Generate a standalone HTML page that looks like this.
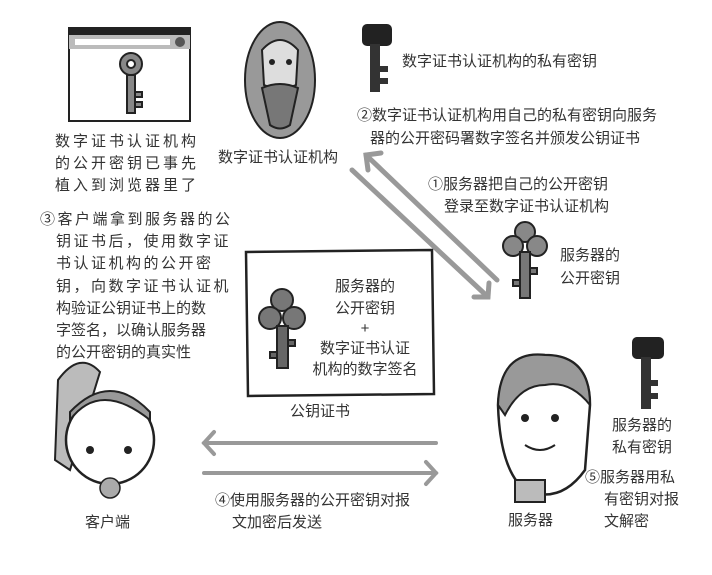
<!DOCTYPE html>
<html><head><meta charset="utf-8"><style>
body{margin:0;background:#fff;}
svg{display:block}
text{font-family:"Liberation Sans","Noto Sans CJK SC",sans-serif;font-size:15px;fill:#333;}
.w3{letter-spacing:3px}
.w2{letter-spacing:2.5px}
</style></head><body>
<svg width="712" height="575" viewBox="0 0 712 575">
<rect x="69" y="28" width="121" height="93" fill="#fff" stroke="#222" stroke-width="2"/>
<rect x="69" y="28" width="121" height="7" fill="#222"/>
<rect x="69" y="35" width="121" height="14" fill="#bbb"/>
<rect x="75" y="39" width="95" height="6" fill="#fff"/>
<circle cx="180" cy="42" r="5" fill="#555"/>
<circle cx="131" cy="64" r="11" fill="#888" stroke="#222" stroke-width="2"/>
<circle cx="131" cy="64" r="4" fill="#fff" stroke="#222" stroke-width="2"/>
<path d="M127 75 h8 v38 h-8 z M135 92 h7 v5 h-7z M135 102 h7 v5 h-7z" fill="#888" stroke="#222" stroke-width="2"/>
<text class="w3" x="55" y="146">数字证书认证机构</text>
<text class="w3" x="55" y="168">的公开密钥已事先</text>
<text class="w3" x="55" y="190">植入到浏览器里了</text>
<ellipse cx="280" cy="80" rx="35" ry="58" fill="#999" stroke="#222" stroke-width="2"/>
<path d="M262 50 Q280 30 298 50 L296 85 Q280 92 264 85 Z" fill="#ddd" stroke="#222" stroke-width="2"/>
<path d="M262 88 Q280 80 298 88 L290 125 Q280 132 270 125 Z" fill="#777" stroke="#222" stroke-width="2"/>
<circle cx="272" cy="62" r="3" fill="#222"/><circle cx="289" cy="62" r="3" fill="#222"/>
<text x="218" y="162">数字证书认证机构</text>
<rect x="362" y="24" width="30" height="22" rx="5" fill="#222"/>
<rect x="370" y="44" width="10" height="48" fill="#333"/>
<rect x="380" y="66" width="8" height="6" fill="#333"/><rect x="380" y="78" width="8" height="6" fill="#333"/>
<text x="402" y="66">数字证书认证机构的私有密钥</text>
<text x="357" y="120">②数字证书认证机构用自己的私有密钥向服务</text>
<text x="370" y="143">器的公开密码署数字签名并颁发公钥证书</text>
<g stroke="#999" stroke-width="5" fill="none" stroke-linecap="round">
<line x1="366" y1="155" x2="497" y2="280"/>
<polyline points="368,170 366,155 381,153"/>
<line x1="352" y1="170" x2="488" y2="297"/>
<polyline points="474,297 488,297 489,283"/>
</g>
<text x="428" y="189">①服务器把自己的公开密钥</text>
<text x="444" y="211">登录至数字证书认证机构</text>
<circle cx="525" cy="232" r="10" fill="#888" stroke="#222" stroke-width="2"/>
<circle cx="513" cy="246" r="10" fill="#888" stroke="#222" stroke-width="2"/>
<circle cx="537" cy="246" r="10" fill="#888" stroke="#222" stroke-width="2"/>
<path d="M520 252 h10 v46 h-10z M530 268 h7 v6 h-7z M513 280 h7 v6 h-7z" fill="#777" stroke="#222" stroke-width="2"/>
<text x="560" y="260">服务器的</text>
<text x="560" y="283">公开密钥</text>
<text class="w2" x="40" y="224">③客户端拿到服务器的公</text>
<text class="w2" x="56" y="246">钥证书后，使用数字证</text>
<text class="w2" x="56" y="268">书认证机构的公开密</text>
<text class="w2" x="56" y="291">钥，向数字证书认证机</text>
<text x="56" y="313">构验证公钥证书上的数</text>
<text x="56" y="335">字签名，以确认服务器</text>
<text x="56" y="357">的公开密钥的真实性</text>
<path d="M246 252 L432 250 L434 394 L248 396 Z" fill="#fff" stroke="#222" stroke-width="2.5"/>
<circle cx="282" cy="300" r="11" fill="#777" stroke="#222" stroke-width="2"/>
<circle cx="270" cy="318" r="11" fill="#777" stroke="#222" stroke-width="2"/>
<circle cx="294" cy="318" r="11" fill="#777" stroke="#222" stroke-width="2"/>
<path d="M277 326 h11 v42 h-11z M288 340 h7 v6 h-7z M270 352 h7 v6 h-7z" fill="#666" stroke="#222" stroke-width="2"/>
<text x="365" y="291" text-anchor="middle">服务器的</text>
<text x="365" y="313" text-anchor="middle">公开密钥</text>
<text x="365" y="333" text-anchor="middle">+</text>
<text x="365" y="353" text-anchor="middle">数字证书认证</text>
<text x="365" y="374" text-anchor="middle">机构的数字签名</text>
<text x="290" y="416">公钥证书</text>
<g stroke="#999" stroke-width="4" fill="none" stroke-linecap="round">
<line x1="204" y1="443" x2="436" y2="443"/>
<polyline points="214,432 204,443 214,454"/>
<line x1="204" y1="473" x2="436" y2="473"/>
<polyline points="426,462 436,473 426,484"/>
</g>
<text x="215" y="505">④使用服务器的公开密钥对报</text>
<text x="232" y="527">文加密后发送</text>
<path d="M58 380 Q80 350 100 372 L70 470 L55 460 Z" fill="#bbb" stroke="#222" stroke-width="2"/>
<circle cx="110" cy="440" r="44" fill="#fff" stroke="#222" stroke-width="2.5"/>
<path d="M70 420 Q100 380 150 420 L150 412 Q110 370 70 412Z" fill="#999" stroke="#222" stroke-width="2"/>
<circle cx="90" cy="450" r="4" fill="#222"/><circle cx="128" cy="450" r="4" fill="#222"/>
<circle cx="110" cy="488" r="10" fill="#aaa" stroke="#222" stroke-width="1.5"/>
<text x="85" y="527">客户端</text>
<path d="M498 405 Q500 350 545 355 Q590 355 590 405 L585 470 Q560 505 525 490 Q500 470 498 405Z" fill="#fff" stroke="#222" stroke-width="2.5"/>
<path d="M498 405 Q500 350 545 355 Q590 355 590 405 Q570 380 545 385 Q520 385 505 415Z" fill="#999" stroke="#222" stroke-width="2"/>
<circle cx="525" cy="418" r="4" fill="#222"/><circle cx="555" cy="418" r="4" fill="#222"/>
<path d="M525 445 Q540 455 555 445" stroke="#222" stroke-width="2" fill="none"/>
<rect x="515" y="480" width="30" height="22" fill="#bbb" stroke="#222" stroke-width="2"/>
<text x="508" y="525">服务器</text>
<rect x="632" y="337" width="32" height="22" rx="5" fill="#222"/>
<rect x="641" y="357" width="10" height="52" fill="#333"/>
<rect x="651" y="380" width="7" height="6" fill="#333"/><rect x="651" y="393" width="7" height="6" fill="#333"/>
<text x="612" y="430">服务器的</text>
<text x="612" y="452">私有密钥</text>
<text x="585" y="482">⑤服务器用私</text>
<text x="604" y="504">有密钥对报</text>
<text x="604" y="526">文解密</text>
</svg>
</body></html>
